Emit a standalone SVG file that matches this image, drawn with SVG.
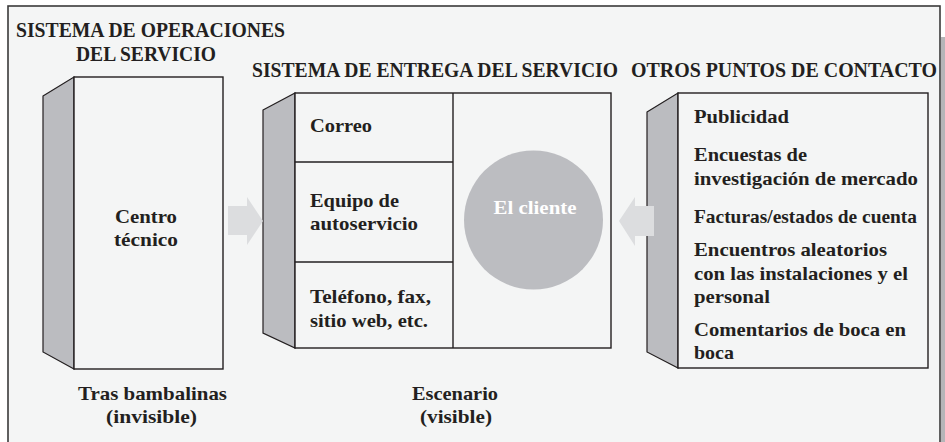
<svg xmlns="http://www.w3.org/2000/svg" width="945" height="442" viewBox="0 0 945 442">
<style>
.t{font-family:"Liberation Serif","Times New Roman",serif;font-weight:bold;fill:#231f20;}
.h{font-size:20px;}
.b{font-size:19px;}
.box{fill:#f4f5f5;stroke:#231f20;stroke-width:1.4;}
.side{fill:#bbbcc0;stroke:#231f20;stroke-width:1.2;stroke-linejoin:miter;}
.arr{fill:#dcdddf;stroke:none;}
.ln{stroke:#231f20;stroke-width:1.4;}
</style>
<rect x="0" y="0" width="945" height="442" fill="#ffffff"/>
<rect x="941" y="37" width="4" height="410" fill="#b5b5b8"/>
<rect x="8" y="6" width="932" height="450" fill="#f4f5f5" stroke="#3a3a3a" stroke-width="1.6"/>

<g id="titles">
<text class="t h" x="16" y="37" textLength="269" lengthAdjust="spacingAndGlyphs">SISTEMA DE OPERACIONES</text>
<text class="t h" x="76" y="61" textLength="140" lengthAdjust="spacingAndGlyphs">DEL SERVICIO</text>
<text class="t h" x="252" y="77" textLength="366" lengthAdjust="spacingAndGlyphs">SISTEMA DE ENTREGA DEL SERVICIO</text>
<text class="t h" x="631" y="77" textLength="306" lengthAdjust="spacingAndGlyphs">OTROS PUNTOS DE CONTACTO</text>
</g>

<g id="operaciones">
<polygon class="side" points="43,96 74,77 74,369 43,352"/>
<rect class="box" x="74" y="77" width="149" height="292"/>
<text class="t b" x="146" y="223" text-anchor="middle" textLength="62" lengthAdjust="spacingAndGlyphs">Centro</text>
<text class="t b" x="146" y="246" text-anchor="middle" textLength="64" lengthAdjust="spacingAndGlyphs">técnico</text>
</g>

<g id="entrega">
<polygon class="side" points="263,110 295,93 295,348 263,333"/>
<rect class="box" x="295" y="93" width="316" height="255"/>
<line class="ln" x1="453" y1="93" x2="453" y2="348"/>
<line class="ln" x1="295" y1="162" x2="453" y2="162"/>
<line class="ln" x1="295" y1="262" x2="453" y2="262"/>
<text class="t b" x="310" y="132" textLength="62" lengthAdjust="spacingAndGlyphs">Correo</text>
<text class="t b" x="310" y="207" textLength="89" lengthAdjust="spacingAndGlyphs">Equipo de</text>
<text class="t b" x="310" y="230" textLength="108" lengthAdjust="spacingAndGlyphs">autoservicio</text>
<text class="t b" x="310" y="303" textLength="121" lengthAdjust="spacingAndGlyphs">Teléfono, fax,</text>
<text class="t b" x="310" y="327" textLength="118" lengthAdjust="spacingAndGlyphs">sitio web, etc.</text>
</g>

<g id="cliente">
<circle cx="533.5" cy="220" r="69.5" fill="#bcbdc1"/>
<text class="t b" x="535" y="214" text-anchor="middle" style="fill:#ffffff" textLength="83" lengthAdjust="spacingAndGlyphs">El cliente</text>
</g>

<g id="contacto">
<polygon class="side" points="647,112 678,93 678,368 647,352"/>
<rect class="box" x="678" y="93" width="250" height="275"/>
<text class="t b" x="694" y="123" textLength="95" lengthAdjust="spacingAndGlyphs">Publicidad</text>
<text class="t b" x="694" y="161" textLength="113" lengthAdjust="spacingAndGlyphs">Encuestas de</text>
<text class="t b" x="694" y="185" textLength="224" lengthAdjust="spacingAndGlyphs">investigación de mercado</text>
<text class="t b" x="694" y="223" textLength="223" lengthAdjust="spacingAndGlyphs">Facturas/estados de cuenta</text>
<text class="t b" x="694" y="256" textLength="193" lengthAdjust="spacingAndGlyphs">Encuentros aleatorios</text>
<text class="t b" x="694" y="280" textLength="214" lengthAdjust="spacingAndGlyphs">con las instalaciones y el</text>
<text class="t b" x="694" y="303" textLength="76" lengthAdjust="spacingAndGlyphs">personal</text>
<text class="t b" x="694" y="336" textLength="212" lengthAdjust="spacingAndGlyphs">Comentarios de boca en</text>
<text class="t b" x="694" y="359" textLength="40" lengthAdjust="spacingAndGlyphs">boca</text>
</g>

<g id="labels">
<text class="t b" x="152.5" y="400" text-anchor="middle" textLength="149" lengthAdjust="spacingAndGlyphs">Tras bambalinas</text>
<text class="t b" x="151.5" y="423" text-anchor="middle" textLength="91" lengthAdjust="spacingAndGlyphs">(invisible)</text>
<text class="t b" x="455" y="400" text-anchor="middle" textLength="86" lengthAdjust="spacingAndGlyphs">Escenario</text>
<text class="t b" x="456" y="423" text-anchor="middle" textLength="72" lengthAdjust="spacingAndGlyphs">(visible)</text>
</g>

<g id="connectors">
<polygon class="arr" points="228,206 247,206 247,197 263,221 247,245 247,235 228,235"/>
<polygon class="arr" points="654,206 635,206 635,197 619,221 635,246 635,236 654,236"/>
</g>
</svg>
